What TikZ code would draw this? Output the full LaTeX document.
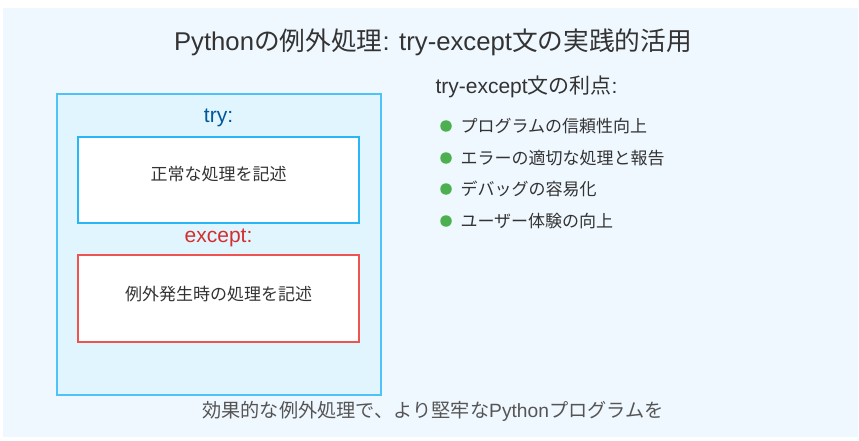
\documentclass[tikz,border=0pt]{standalone}
\usepackage{fontspec}
\setmainfont{Liberation Sans}
\newfontfamily\jp{Noto Sans CJK JP}
\usetikzlibrary{positioning}

\definecolor{pagebg}{HTML}{F0F8FF}
\definecolor{tryfill}{HTML}{E1F5FE}
\definecolor{tryline}{HTML}{4FC3F7}
\definecolor{boxline}{HTML}{29B6F6}
\definecolor{exline}{HTML}{EF5350}
\definecolor{trytext}{HTML}{01579B}
\definecolor{extext}{HTML}{D32F2F}
\definecolor{bodytext}{HTML}{333333}
\definecolor{notetext}{HTML}{555555}
\definecolor{dotgreen}{HTML}{4CAF50}

\begin{document}
\begin{tikzpicture}[x=1pt,y=-1pt,
    codebox/.style={draw,line width=2pt,fill=white,minimum width=281,minimum height=86,inner sep=0},
    blocklabel/.style={font=\fontsize{21}{24}\selectfont},
    boxtext/.style={text=bodytext,font=\fontsize{17}{20}\selectfont\jp},
    dot/.style={circle,fill=dotgreen,inner sep=0,minimum size=11.5},
    pointtext/.style={anchor=west,text=bodytext,font=\fontsize{17}{20}\selectfont\jp}]
      \useasboundingbox (0,0) rectangle (859,441);
      \fill[pagebg] (3,8) rectangle (858,437);

      \node (title) [text=bodytext,font=\fontsize{25.7}{30}\selectfont] at (433,42)
        {Python{\jp の例外処理}: try-except{\jp 文の実践的活用}};

      % try / except block
      \node (outer) [draw=tryline,fill=tryfill,line width=2pt,minimum width=323.5,minimum height=301,inner sep=0] at (218.75,244.5) {};
      \node (trylabel) [blocklabel,text=trytext] at (218.5,118) {try:};
      \node (trybox) [codebox,draw=boxline] at (218.5,180) {};
      \node (trytxt) [boxtext] at (218.5,174) {正常な処理を記述};
      \node (exlabel) [blocklabel,text=extext] at (218.5,238) {except:};
      \node (exbox) [codebox,draw=exline,minimum height=87] at (218.5,298.5) {};
      \node (extxt) [boxtext] at (218.5,294) {例外発生時の処理を記述};

      % merits
      \node (merits) [anchor=west,text=bodytext,font=\fontsize{21}{24}\selectfont] at (432,87)
        {try-except{\jp 文の利点}:};
      \node (dotA) [dot] at (446,126) {};
      \node (dotB) [dot] at (446,158) {};
      \node (dotC) [dot] at (446,189) {};
      \node (dotD) [dot] at (446,221) {};
      \node (ptA) [pointtext] at (457,126) {プログラムの信頼性向上};
      \node (ptB) [pointtext] at (457,158) {エラーの適切な処理と報告};
      \node (ptC) [pointtext] at (457,189) {デバッグの容易化};
      \node (ptD) [pointtext] at (457,221) {ユーザー体験の向上};

      \node (note) [text=notetext,font=\fontsize{19.2}{22}\selectfont] at (433,411)
        {{\jp 効果的な例外処理で、より堅牢な}Python{\jp プログラムを}};
    \end{tikzpicture}
\end{document}
